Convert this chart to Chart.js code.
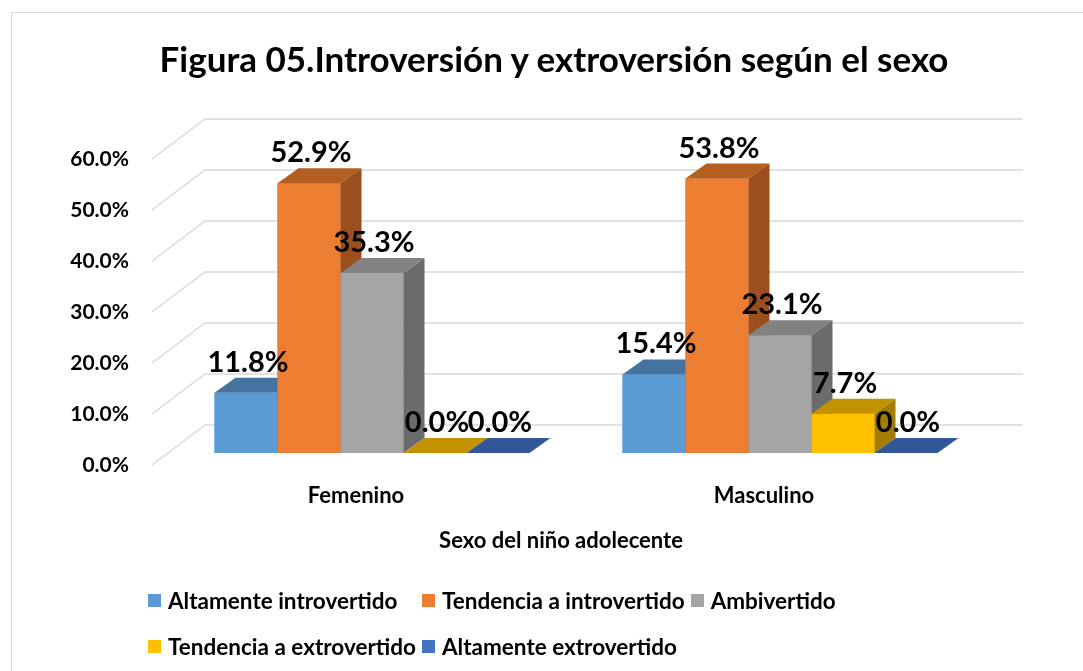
<!DOCTYPE html>
<html>
<head>
<meta charset="utf-8">
<title>Figura 05</title>
<script src="https://cdn.jsdelivr.net/npm/chart.js@4.4.1/dist/chart.umd.min.js"></script>
<style>
  html, body { margin: 0; padding: 0; background: #fff; overflow: hidden; }
  body { width: 1083px; height: 671px; position: relative; font-family: Lato, sans-serif; }
  .frame { position: absolute; left: 11px; top: 12px; width: 1200px; height: 800px;
           border: 1.5px solid #d9d9d9; box-sizing: border-box; }
  #chart { position: absolute; left: 0; top: 0; }
  .title { position: absolute; left: 254px; top: 37px; width: 600px; text-align: center;
           font: bold 35px Lato, sans-serif; color: #000; line-height: 42px; white-space: nowrap;
           display: flex; justify-content: center; }
  .axis-title { position: absolute; left: 361px; top: 527px; width: 400px; text-align: center;
                font: bold 22px Lato, sans-serif; color: #000; line-height: 26px; }
  #legend { position: absolute; left: 148px; top: 588px; display: grid;
            grid-template-columns: auto auto auto; column-gap: 6px; row-gap: 22px;
            font: bold 22.5px Lato, sans-serif; color: #000; }
  .item { display: flex; align-items: center; height: 24px; white-space: nowrap; }
  .box { width: 13px; height: 13px; margin-right: 7px; flex: none; }
</style>
</head>
<body>
<div class="frame"></div>
<canvas id="chart" width="1083" height="671"></canvas>
<div class="title">Figura 05.Introversión y extroversión según el sexo</div>
<div class="axis-title">Sexo del niño adolecente</div>
<div id="legend"></div>
<script>
// data (percent)
const categories = ['Femenino', 'Masculino'];
const seriesNames = ['Altamente introvertido', 'Tendencia a introvertido', 'Ambivertido',
                     'Tendencia a extrovertido', 'Altamente extrovertido'];
const altamenteIntrovertido = [11.8, 15.4];
const tendenciaIntrovertido = [52.9, 53.8];
const ambivertido = [35.3, 23.1];
const tendenciaExtrovertido = [0.0, 7.7];
const altamenteExtrovertido = [0.0, 0.0];
const yMax = 60;
const yStep = 10;

// colours: front, top, side faces
const frontColors = ['#5B9BD5', '#ED7D31', '#A5A5A5', '#FFC000', '#4472C4'];
const topColors   = ['#44739f', '#b45e22', '#828282', '#c29200', '#33569a'];
const sideColors  = ['#3b6389', '#9c4f1e', '#6b6b6b', '#a47c00', '#294a86'];

// 3d offsets
const depthX = 21, depthY = -15;
const frontDX = -16, frontDY = 12, backDX = 37, backDY = -28, wallRight = 39;

const seriesData = [altamenteIntrovertido, tendenciaIntrovertido, ambivertido,
                    tendenciaExtrovertido, altamenteExtrovertido];

function poly(ctx, pts, color) {
    ctx.beginPath();
    ctx.moveTo(pts[0][0], pts[0][1]);
    for (let k = 1; k < pts.length; k++) ctx.lineTo(pts[k][0], pts[k][1]);
    ctx.closePath();
    ctx.fillStyle = color;
    ctx.fill();
}

const wallPlugin = {
    id: 'wall',
    beforeDatasetsDraw(chart) {
        const {ctx, chartArea: a, scales: {y}} = chart;
        ctx.save();
        ctx.strokeStyle = '#d9d9d9';
        ctx.lineWidth = 1.5;
        y.ticks.forEach(t => {
            const py = y.getPixelForValue(t.value);
            ctx.beginPath();
            ctx.moveTo(a.left + frontDX, py + frontDY);
            ctx.lineTo(a.left + backDX, py + backDY);
            ctx.lineTo(a.right + wallRight, py + backDY);
            ctx.stroke();
        });
        ctx.restore();
    }
};

const barsPlugin = {
    id: 'bars3d',
    afterDatasetsDraw(chart) {
        const ctx = chart.ctx;
        ctx.save();
        categories.forEach((c, j) => {
            chart.data.datasets.forEach((ds, i) => {
                const bar = chart.getDatasetMeta(i).data[j];
                const x0 = bar.x - bar.width / 2, x1 = bar.x + bar.width / 2;
                const top = bar.y, base = bar.base;
                ctx.fillStyle = frontColors[i];
                ctx.fillRect(x0, top, x1 - x0, base - top);
                poly(ctx, [[x0, top], [x1, top], [x1 + depthX, top + depthY], [x0 + depthX, top + depthY]], topColors[i]);
                poly(ctx, [[x1, top], [x1 + depthX, top + depthY], [x1 + depthX, base + depthY], [x1, base]], sideColors[i]);
            });
        });
        // value labels
        ctx.font = 'bold 29px Lato, sans-serif';
        ctx.fillStyle = '#000';
        ctx.textAlign = 'center';
        ctx.textBaseline = 'alphabetic';
        chart.data.datasets.forEach((ds, i) => {
            chart.getDatasetMeta(i).data.forEach((bar, j) => {
                ctx.fillText(ds.data[j].toFixed(1) + '%', bar.x + 2, bar.y - 21);
            });
        });
        ctx.restore();
    }
};

const ctx = document.getElementById('chart').getContext('2d');
const chart = new Chart(ctx, {
    type: 'bar',
    data: {
        labels: categories,
        datasets: seriesNames.map((name, i) => ({
            label: name,
            data: seriesData[i],
            backgroundColor: frontColors[i],
            borderWidth: 0,
            barPercentage: 1,
            categoryPercentage: 0.772
        }))
    },
    options: {
        responsive: false,
        animation: false,
        layout: { padding: { left: 0, right: 99, top: 147, bottom: 116 } },
        scales: {
            x: {
                grid: { display: false, drawTicks: false },
                border: { display: false },
                ticks: {
                    color: '#000',
                    font: { family: 'Lato', size: 22, weight: 'bold' },
                    padding: 30,
                    labelOffset: -16
                },
                afterFit: s => { s.height = 102; }
            },
            y: {
                min: 0,
                max: yMax,
                grid: { display: false, drawTicks: false },
                border: { display: false },
                ticks: {
                    stepSize: yStep,
                    color: '#000',
                    font: { family: 'Lato', size: 21, weight: 'bold' },
                    padding: 39,
                    labelOffset: 12,
                    callback: v => v.toFixed(1) + '%'
                },
                afterFit: s => { s.width = 168; }
            }
        },
        plugins: {
            legend: { display: false },
            tooltip: { enabled: false },
            title: { display: false }
        }
    },
    plugins: [wallPlugin, barsPlugin]
});

// legend built from the same series
const legend = document.getElementById('legend');
seriesNames.forEach((name, i) => {
    const item = document.createElement('div');
    item.className = 'item';
    item.innerHTML = '<span class="box" style="background:' + frontColors[i] + '"></span>' + name;
    legend.appendChild(item);
});
</script>
</body>
</html>
